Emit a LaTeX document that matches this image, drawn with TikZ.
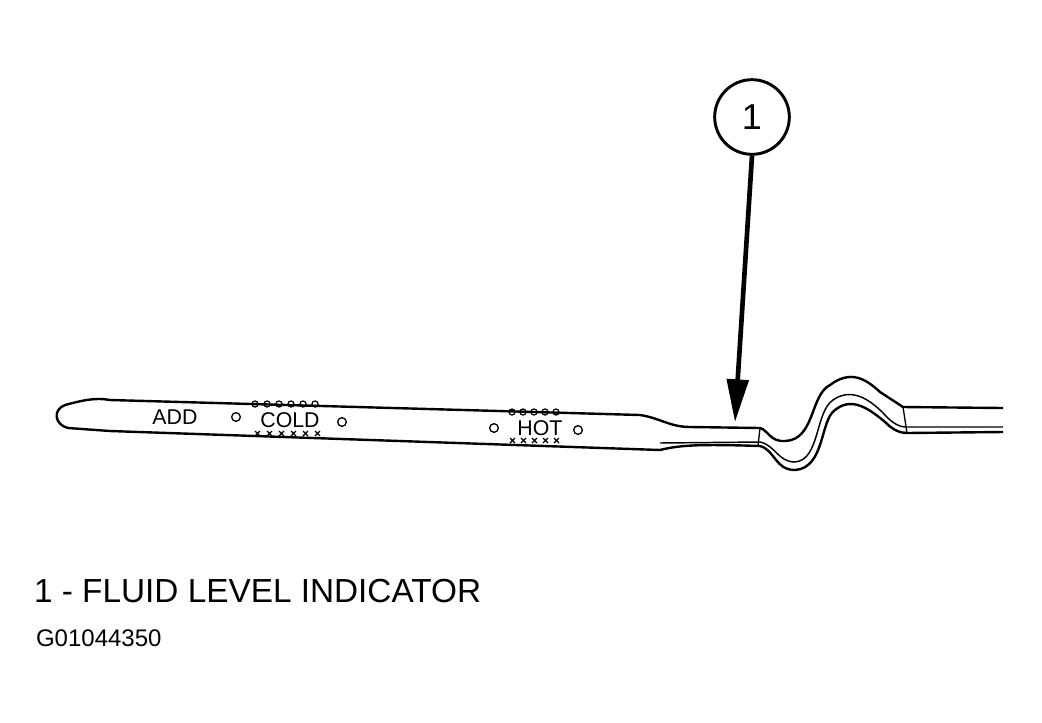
\documentclass[tikz,border=0pt]{standalone}
\usepackage{fontspec}
\setmainfont{Liberation Sans}
\usetikzlibrary{arrows.meta}
\begin{document}
\begin{tikzpicture}[
    x=0.75pt, y=-0.75pt,
    line width=1.6pt,
    line join=round,
    outline/.style={draw=black, line width=1.8pt},
    level/.style={font=\fontsize{16}{16}\selectfont, inner sep=0pt},
    dot/.style={circle, draw, line width=1pt, inner sep=0pt, minimum size=6.5pt},
    hatch/.style={line width=0.9pt}
  ]
  \useasboundingbox (0,0) rectangle (1042,722);

  % blade
  \draw[outline] (640,415) -- (110,400) .. controls (95,397) and (80,401) .. (65,405)
    .. controls (52,410) and (55,425) .. (68,428) -- (110,431) -- (660,450);
  \draw[outline] (640,415) .. controls (660,418) and (670,427) .. (690,427) -- (760,428)
    .. controls (768,430) and (770,442) .. (785,441)
    .. controls (815,440) and (810,395) .. (830,385)
    .. controls (850,370) and (865,378) .. (880,392)
    -- (903,407) -- (1003,408);
  \draw[outline] (660,450) .. controls (680,445) and (700,444) .. (760,446)
    .. controls (775,450) and (775,470) .. (795,470)
    .. controls (825,468) and (820,420) .. (835,410)
    .. controls (850,398) and (865,405) .. (885,422)
    .. controls (893,430) and (900,433) .. (907,433) -- (1003,432);
  \draw[line width=1.1pt] (660,443) -- (760,442)
    .. controls (775,445) and (778,462) .. (795,462)
    .. controls (820,460) and (815,412) .. (833,400)
    .. controls (850,388) and (868,397) .. (885,415)
    .. controls (892,423) and (900,427) .. (905,427) -- (1003,427);
  \draw[line width=1pt] (760,428) -- (758,446);
  \draw[line width=1pt] (903,407) -- (907,433);

  % markings
  \node[level] (add) at (175,417) {ADD};
  \node[level] (cold) at (290,420) {COLD};
  \node[level] (hot) at (540,428) {HOT};
  \node[dot] (c1) at (236,417) {};
  \node[dot] (c2) at (342,422) {};
  \node[dot] (h1) at (494,428) {};
  \node[dot] (h2) at (578,430) {};
  \foreach \i in {0,...,5} {
    \draw[hatch] (255+\i*12,404) circle[radius=2.3pt];
    \draw[hatch] (255+\i*12,431) -- ++(5,5) (255+\i*12,436) -- ++(5,-5);
  }
  \foreach \i in {0,...,4} {
    \draw[hatch] (512+\i*11,412) circle[radius=2.3pt];
    \draw[hatch] (510+\i*11,438) -- ++(5,5) (510+\i*11,443) -- ++(5,-5);
  }

  % callout
  \node[circle, draw, line width=2.2pt, minimum size=56pt, inner sep=0pt,
    font=\fontsize{27}{27}\selectfont] (one) at (752,117) {1};
  \coordinate (tipA) at (735,422);
  \draw[line width=3.5pt, -{Triangle[length=32pt,width=16pt]}] (one.south) -- (tipA);

  % captions
  \node[anchor=base west, inner sep=0pt, font=\fontsize{25}{25}\selectfont] (cap)
    at (33,602) {1 - FLUID LEVEL INDICATOR};
  \node[anchor=base west, inner sep=0pt, font=\fontsize{18}{18}\selectfont] (gid)
    at (35,646) {G01044350};
\end{tikzpicture}
\end{document}
